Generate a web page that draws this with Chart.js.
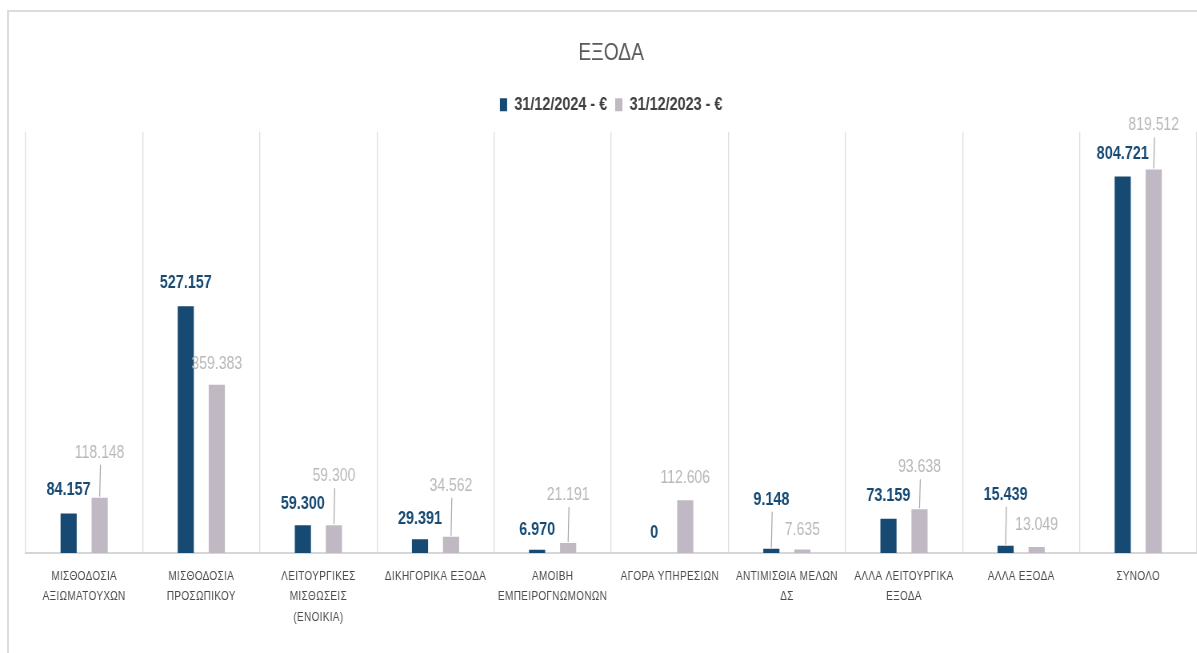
<!DOCTYPE html>
<html>
<head>
<meta charset="utf-8">
<script src="https://cdn.jsdelivr.net/npm/chart.js@4"></script>
<style>
  html, body { margin: 0; padding: 0; background: #fff; overflow: hidden; }
  #frame { position: absolute; left: 7px; top: 10px; width: 1300px; height: 700px;
           border-left: 2px solid #dcdcdc; border-top: 2px solid #dcdcdc; }
  /* the original picture is squeezed sideways, so the canvas is drawn wider and scaled back */
  #chart { position: absolute; left: 0; top: 0; transform: scaleX(0.8); transform-origin: 0 0; }
</style>
</head>
<body>
<div id="frame"></div>
<canvas id="chart" width="1496" height="653"></canvas>
<script>
// categories and values (€)
var categories = [
  ['ΜΙΣΘΟΔΟΣΙΑ', 'ΑΞΙΩΜΑΤΟΥΧΩΝ'],
  ['ΜΙΣΘΟΔΟΣΙΑ', 'ΠΡΟΣΩΠΙΚΟΥ'],
  ['ΛΕΙΤΟΥΡΓΙΚΕΣ', 'ΜΙΣΘΩΣΕΙΣ', '(ΕΝΟΙΚΙΑ)'],
  'ΔΙΚΗΓΟΡΙΚΑ ΕΞΟΔΑ',
  ['ΑΜΟΙΒΗ', 'ΕΜΠΕΙΡΟΓΝΩΜΟΝΩΝ'],
  'ΑΓΟΡΑ ΥΠΗΡΕΣΙΩΝ',
  ['ΑΝΤΙΜΙΣΘΙΑ ΜΕΛΩΝ', 'ΔΣ'],
  ['ΑΛΛΑ ΛΕΙΤΟΥΡΓΙΚΑ', 'ΕΞΟΔΑ'],
  'ΑΛΛΑ ΕΞΟΔΑ',
  'ΣΥΝΟΛΟ'
];
var values2024 = [84157, 527157, 59300, 29391, 6970, 0, 9148, 73159, 15439, 804721];
var values2023 = [118148, 359383, 59300, 34562, 21191, 112606, 7635, 93638, 13049, 819512];
var seriesNames = ['31/12/2024 - €', '31/12/2023 - €'];

// how far above the bar top each value label sits (px); long ones get a leader line
var labelLift2024 = [24, 23, 21, 20, 20, 20, 49, 23, 51, 22];
var labelLift2023 = [45, 21, 49, 51, 48, 22, 19, 42, 22, 44];

var DARK = '#174a73';
var GREY = '#c0b8c2';
var GREY_TEXT = '#b8b8b8';
var FONT = '"Liberation Sans Narrow", "Liberation Sans", sans-serif';

function fmtEuro(v) {
  return String(v).replace(/\B(?=(\d{3})+(?!\d))/g, '.');
}

var valueLabels = {
  id: 'valueLabels',
  beforeLayout: function(chart) {
    // a bit more room between legend and plot
    var lg = chart.legend;
    if (lg && !lg._padded) {
      var fit = lg.fit;
      lg.fit = function() { fit.call(this); this.height += 8; };
      lg._padded = true;
    }
  },
  afterLayout: function(chart) {
    // letter-spaced category labels
    var sc = chart.scales.x;
    if (sc && !sc._spaced) {
      var orig = sc.drawLabels;
      sc.drawLabels = function(area) {
        this.ctx.save();
        this.ctx.letterSpacing = '0.4px';
        orig.call(this, area);
        this.ctx.restore();
      };
      sc._spaced = true;
    }
  },
  afterDatasetsDraw: function(chart) {
    var ctx = chart.ctx;
    var groups = [
      { meta: chart.getDatasetMeta(0), vals: values2024, lift: labelLift2024, font: 'bold 18px ' + FONT, color: DARK },
      { meta: chart.getDatasetMeta(1), vals: values2023, lift: labelLift2023, font: '17.5px ' + FONT, color: GREY_TEXT }
    ];
    ctx.save();
    ctx.textAlign = 'center';
    ctx.textBaseline = 'middle';
    for (var g = 0; g < groups.length; g++) {
      var grp = groups[g];
      for (var i = 0; i < grp.meta.data.length; i++) {
        var bar = grp.meta.data[i];
        var ty = bar.y - grp.lift[i];
        if (grp.lift[i] > 30) {
          ctx.strokeStyle = '#a8a8a8';
          ctx.lineWidth = 1.2;
          ctx.beginPath();
          ctx.moveTo(bar.x + 1, ty + 12);
          ctx.lineTo(bar.x, bar.y - 1);
          ctx.stroke();
        }
        ctx.font = grp.font;
        ctx.fillStyle = grp.color;
        ctx.fillText(fmtEuro(grp.vals[i]), bar.x, ty);
      }
    }
    ctx.restore();
  }
};

var chart = new Chart(document.getElementById('chart'), {
  type: 'bar',
  data: {
    labels: categories,
    datasets: [
      {
        label: seriesNames[0],
        data: values2024,
        backgroundColor: DARK,
        borderWidth: 0,
        categoryPercentage: 0.53,
        barPercentage: 0.52
      },
      {
        label: seriesNames[1],
        data: values2023,
        backgroundColor: GREY,
        borderWidth: 0,
        categoryPercentage: 0.53,
        barPercentage: 0.52
      }
    ]
  },
  options: {
    responsive: false,
    animation: false,
    layout: { padding: { left: 32, right: 0, top: 0, bottom: 0 } },
    plugins: {
      title: {
        display: true,
        text: 'ΕΞΟΔΑ',
        color: '#595959',
        font: { family: FONT, size: 24, weight: 'normal' },
        padding: { top: 39, bottom: 18 }
      },
      legend: {
        display: true,
        labels: {
          color: '#404040',
          font: { family: FONT, size: 18, weight: 'bold' },
          boxWidth: 9,
          boxHeight: 13,
          padding: 10
        }
      },
      tooltip: { enabled: false }
    },
    scales: {
      x: {
        grid: { color: '#dedede', lineWidth: 1.3, drawTicks: false, offset: true },
        border: { color: '#d6d6d6', width: 2 },
        ticks: {
          color: '#4a4a4a',
          font: { family: FONT, size: 12.5, lineHeight: 1.65 },
          padding: 13,
          maxRotation: 0,
          autoSkip: false
        },
        afterFit: function(scale) { scale.height = 100; }
      },
      y: {
        display: false,
        min: 0,
        max: 900000
      }
    }
  },
  plugins: [valueLabels]
});
</script>
</body>
</html>
